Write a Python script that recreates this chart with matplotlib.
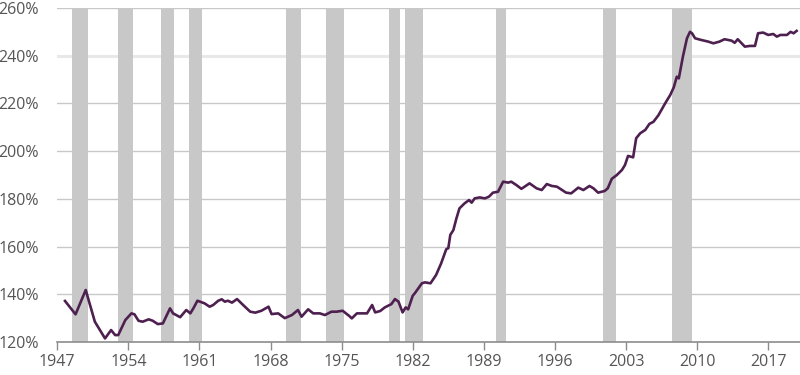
import matplotlib
matplotlib.use("Agg")
import matplotlib.pyplot as plt

# (decimal year, percent)
years = [1947.76, 1948.8, 1949.8, 1950.7, 1951.7, 1952.3, 1952.7, 1953.0, 1953.7, 1954.3,
         1954.6, 1955.0, 1955.4, 1956.0, 1956.4, 1956.9, 1957.4, 1958.1, 1958.4, 1959.1,
         1959.7, 1960.1, 1960.4, 1960.8, 1961.5, 1962.0, 1962.35, 1962.85, 1963.2, 1963.5,
         1963.8, 1964.2, 1964.7, 1965.3, 1966.0, 1966.5, 1967.1, 1967.8, 1968.1, 1968.75,
         1969.4, 1970.1, 1970.7, 1971.05, 1971.7, 1972.2, 1972.85, 1973.35, 1974.0, 1974.5,
         1975.1, 1975.75, 1976.0, 1976.5, 1977.5, 1978.0, 1978.3, 1978.8, 1979.25, 1979.9,
         1980.25, 1980.6, 1981.0, 1981.3, 1981.55, 1982.0, 1982.2, 1982.9, 1983.2, 1983.75,
         1984.3, 1984.8, 1985.3, 1985.5, 1985.7, 1986.0, 1986.3, 1986.6, 1987.1, 1987.55,
         1987.8, 1988.1, 1988.6, 1989.1, 1989.5, 1989.9, 1990.4, 1990.9, 1991.4, 1991.7,
         1992.2, 1992.7, 1993.5, 1994.2, 1994.7, 1995.2, 1995.7, 1996.2, 1996.7, 1997.1,
         1997.6, 1998.3, 1998.8, 1999.4, 1999.8, 2000.25, 2000.9, 2001.2, 2001.6, 2002.1,
         2002.6, 2002.9, 2003.2, 2003.7, 2004.0, 2004.4, 2004.9, 2005.3, 2005.7, 2006.2,
         2006.85, 2007.35, 2007.7, 2008.0, 2008.2, 2008.6, 2009.0, 2009.3, 2009.5, 2009.8,
         2010.4, 2011.1, 2011.6, 2012.2, 2012.7, 2013.4, 2013.7, 2014.0, 2014.7, 2015.2,
         2015.7, 2016.0, 2016.5, 2017.0, 2017.5, 2017.85, 2018.2, 2018.85, 2019.2, 2019.5,
         2019.8]
values = [137.2, 131.6, 141.8, 128.5, 121.5, 125.0, 122.9, 122.9, 129.2, 132.0,
          131.6, 128.9, 128.5, 129.5, 128.9, 127.5, 127.8, 134.1, 132.0, 130.4,
          133.4, 132.0, 134.1, 137.3, 136.2, 134.8, 135.5, 137.3, 137.9, 136.9,
          137.3, 136.5, 138.0, 135.5, 132.7, 132.3, 133.1, 134.8, 131.7, 132.0,
          130.0, 131.3, 133.4, 130.6, 133.7, 132.0, 132.0, 131.3, 132.7, 132.7,
          133.1, 130.9, 129.9, 132.0, 132.0, 135.5, 132.4, 133.0, 134.5, 135.9,
          138.0, 136.9, 132.4, 134.5, 133.7, 139.4, 140.4, 144.6, 145.0, 144.6,
          148.1, 153.0, 158.9, 159.3, 164.9, 166.9, 171.8, 176.0, 178.1, 179.5,
          178.4, 180.2, 180.6, 180.2, 180.9, 182.6, 183.0, 187.2, 186.8, 187.2,
          185.8, 184.2, 186.5, 184.4, 183.7, 186.2, 185.4, 185.1, 183.7, 182.6,
          182.3, 184.7, 183.7, 185.4, 184.4, 182.6, 183.3, 184.4, 188.4, 190.0,
          192.1, 194.2, 198.0, 197.4, 205.4, 207.5, 208.9, 211.4, 212.3, 215.1,
          220.0, 223.5, 226.7, 231.2, 230.5, 239.6, 247.3, 250.0, 249.4, 247.3,
          246.6, 245.9, 245.2, 245.9, 246.9, 246.3, 245.4, 246.9, 243.8, 244.1,
          244.1, 249.4, 249.7, 248.7, 249.1, 248.0, 248.7, 248.7, 250.0, 249.4,
          250.4]

rec_start = [1948.48, 1953.0, 1957.2, 1960.0, 1969.5, 1973.5, 1979.7, 1981.2, 1990.2, 2000.7, 2007.5]
rec_end = [1950.0, 1954.5, 1958.5, 1961.25, 1971.0, 1975.25, 1980.7, 1983.0, 1991.2, 2002.0, 2009.5]

tick_years = [1947, 1954, 1961, 1968, 1975, 1982, 1989, 1996, 2003, 2010, 2017]
y_ticks = [120, 140, 160, 180, 200, 220, 240, 260]

plt.rcParams['font.family'] = ['Open Sans', 'DejaVu Sans']

fig = plt.figure(figsize=(8, 3.75), dpi=100)
ax = fig.add_axes([0.0716, 0.088, 0.928, 0.8907])

# gridlines (240% drawn lighter and thicker, like the original)
for v in y_ticks[1:]:
    if v == 240:
        ax.axhline(v, color='#e8e8e8', lw=2.2, zorder=0)
    else:
        ax.axhline(v, color='#c8c8c8', lw=1, zorder=0)

for s, e in zip(rec_start, rec_end):
    ax.axvspan(s, e, color='#c8c8c8', lw=0, zorder=1)

ax.plot(years, values, color='#4e2050', lw=1.9, zorder=3, solid_joinstyle='round')

ax.set_xlim(1947, 2020.1)
ax.set_ylim(120, 260)
ax.set_xticks(tick_years)
ax.set_xticklabels([str(t) for t in tick_years])
ax.set_yticks(y_ticks)
ax.set_yticklabels([f'{v}%' for v in y_ticks])

for sp in ['top', 'right', 'left']:
    ax.spines[sp].set_visible(False)
ax.spines['bottom'].set_color('#8c8c8c')
ax.spines['bottom'].set_linewidth(1.2)
ax.spines['bottom'].set_zorder(4)

ax.tick_params(axis='x', length=6, width=1, color='#8c8c8c', labelsize=11.5,
               labelcolor='#555555', pad=3)
ax.tick_params(axis='y', length=0, labelsize=11.5, labelcolor='#555555', pad=13)

fig.savefig('out.png', dpi=100)
